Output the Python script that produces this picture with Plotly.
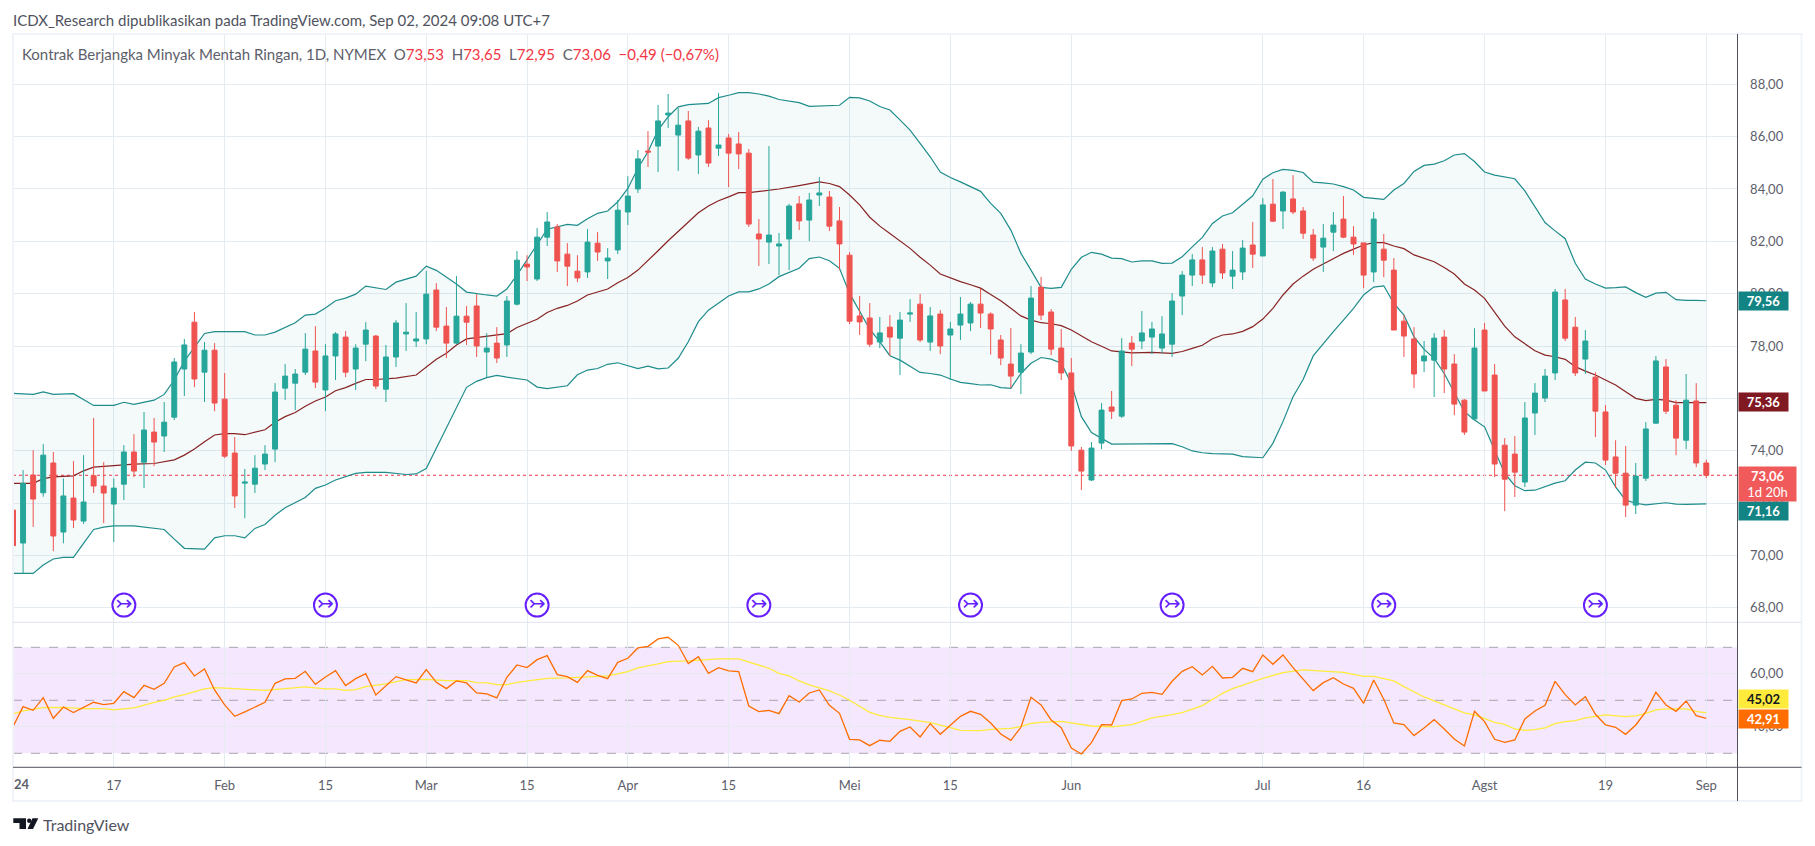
import plotly.graph_objects as go

W = 1815
H = 846

# bar positions are plain trading-day indexes, Jan 3 2024 = 0, Sep 2 2024 = 168
opens = [
    71.73,70.47,73.07,72.39,73.53,70.89,72.19,71.31,73.04,72.65,
    71.96,72.72,73.95,73.56,74.71,74.56,75.28,77.12,78.91,77.00,
    77.84,75.97,73.91,72.76,72.72,73.49,74.06,76.39,76.58,77.00,
    77.81,76.32,77.62,78.34,77.12,78.07,78.38,76.35,77.58,78.46,
    78.19,78.27,80.14,78.76,78.11,79.14,79.53,77.77,78.11,78.04,
    79.60,81.13,80.56,82.16,82.55,81.51,80.86,80.83,81.93,81.25,
    81.67,83.12,84.00,85.45,85.64,86.83,86.06,86.60,85.30,86.33,
    85.56,85.95,85.72,85.37,82.28,81.97,81.82,82.09,83.43,82.81,
    83.77,83.69,82.78,81.47,79.15,79.07,78.15,78.72,78.30,79.22,
    79.60,78.15,79.22,78.42,78.80,78.88,79.60,79.22,78.23,77.31,
    77.00,77.77,80.25,79.30,77.92,76.97,74.02,72.88,74.29,75.67,
    75.32,78.11,78.19,78.34,77.92,78.07,79.91,80.71,81.29,80.41,
    81.70,80.67,80.83,81.86,81.44,83.42,83.16,83.62,83.16,82.24,
    81.78,82.35,82.85,82.16,81.94,80.83,81.70,80.90,78.95,78.27,
    77.43,77.46,78.34,77.31,75.93,75.21,78.61,76.89,74.21,73.87,
    72.80,75.44,76.01,76.97,79.76,78.72,77.50,76.81,75.48,73.76,
    73.14,71.92,72.95,75.05,77.20,75.74,74.40,75.90,73.53,
]
highs = [
    73.64,73.26,74.02,74.25,73.95,72.94,73.60,73.83,75.25,73.56,
    72.94,74.21,74.63,75.48,75.25,75.86,77.54,78.27,79.30,78.15,
    78.11,76.97,74.52,73.30,73.83,74.21,76.58,77.31,77.12,78.49,
    78.76,78.07,78.53,78.57,78.07,78.91,78.42,78.04,78.99,79.64,
    79.30,80.86,80.40,79.49,80.67,79.53,79.98,78.49,78.72,79.91,
    81.63,81.47,82.51,83.12,82.66,81.93,81.47,82.47,82.35,81.74,
    83.58,84.49,85.49,86.21,87.21,87.63,87.09,86.98,86.37,86.63,
    87.67,86.10,86.18,85.53,82.85,85.64,82.32,83.43,83.73,83.85,
    84.46,83.92,83.31,81.59,79.91,79.64,79.11,79.18,79.30,79.79,
    79.99,79.49,79.37,78.92,79.87,79.68,80.18,79.29,78.42,78.69,
    78.07,80.29,80.64,79.41,78.65,77.54,74.14,74.33,75.82,76.28,
    78.30,78.38,79.34,78.92,79.14,80.02,80.86,81.51,81.78,81.78,
    81.90,81.63,82.05,82.74,83.65,84.38,83.92,84.53,83.31,82.47,
    82.66,83.12,83.73,82.58,81.94,83.12,82.28,81.36,79.18,78.72,
    78.19,78.49,78.61,77.69,75.97,78.68,78.88,77.31,74.48,74.56,
    75.86,76.58,77.12,80.18,80.18,79.11,78.61,77.00,75.74,74.40,
    74.18,73.53,75.09,77.62,77.50,75.93,76.93,76.58,73.65,
]
lows = [
    70.07,69.31,71.09,72.24,70.16,70.46,71.04,71.20,72.38,71.23,
    70.51,72.11,72.99,72.57,73.41,73.95,75.17,76.09,76.43,75.86,
    75.51,73.72,71.81,71.42,72.38,73.26,73.56,75.94,75.55,76.89,
    76.39,75.51,76.70,76.81,76.32,77.42,76.35,75.86,77.20,77.81,
    77.96,78.07,78.57,77.54,78.07,78.04,77.58,76.81,77.35,77.58,
    79.55,80.48,80.48,81.82,80.83,80.29,80.44,80.60,81.25,80.56,
    81.51,82.62,83.85,84.84,84.65,86.33,84.69,85.11,84.57,84.84,
    85.26,84.07,84.76,82.55,81.06,81.13,80.71,80.90,82.43,82.01,
    83.35,82.39,80.90,78.84,78.42,77.96,77.92,77.62,76.89,78.92,
    78.15,77.81,77.69,76.70,78.23,78.57,78.69,77.67,77.27,76.39,
    76.16,77.69,78.99,77.65,76.70,73.99,72.50,72.84,74.06,75.21,
    75.25,77.23,77.88,77.69,77.72,77.58,79.18,80.29,80.37,80.25,
    80.56,80.18,80.52,80.98,81.44,82.74,82.47,83.04,82.09,81.25,
    80.83,81.63,82.12,81.48,80.21,80.44,80.63,78.61,77.58,76.39,
    77.00,76.05,76.20,75.36,74.60,75.21,76.28,72.99,71.69,72.23,
    72.61,74.60,75.86,76.70,78.19,76.85,76.93,74.52,73.45,72.57,
    71.46,71.58,72.84,75.05,75.40,73.83,74.06,73.37,72.95,
]
closes = [
    70.37,72.75,72.15,73.83,70.74,72.27,71.35,72.04,72.65,72.38,
    72.57,73.95,73.22,74.79,74.33,75.09,77.39,78.04,76.74,77.84,
    75.82,73.79,72.27,72.80,73.33,73.87,76.24,76.85,76.93,77.88,
    76.62,77.62,78.46,77.00,77.92,78.61,76.47,77.58,78.88,78.53,
    78.27,79.98,78.72,78.11,79.14,78.91,78.00,77.92,77.54,79.72,
    81.28,81.02,82.16,82.74,81.25,81.05,80.60,81.97,81.59,81.36,
    83.19,83.73,85.15,85.41,86.60,86.90,86.44,85.18,86.21,84.99,
    85.68,85.37,85.34,82.66,82.09,82.24,81.90,83.35,82.78,83.58,
    83.85,82.58,81.90,78.95,78.92,78.07,78.50,78.34,78.99,79.26,
    78.23,79.15,78.00,78.65,79.22,79.60,79.26,78.65,77.54,76.85,
    77.73,79.83,79.18,77.88,76.97,74.18,73.22,74.10,75.55,75.51,
    77.81,77.88,78.50,78.65,78.46,79.72,80.71,81.29,80.71,81.63,
    80.79,80.90,81.74,81.51,83.39,82.77,83.88,83.12,82.31,81.36,
    82.12,82.62,82.16,81.90,80.71,82.85,81.28,78.61,78.38,76.93,
    77.62,78.30,77.12,75.78,74.71,77.92,76.28,73.49,72.91,73.18,
    75.25,76.20,76.85,80.06,78.30,76.97,78.19,75.51,73.64,73.14,
    71.92,73.03,74.83,77.43,75.51,74.48,75.93,73.53,73.06,
]
bars = list(range(len(closes)))

upper_x = [0,2,3,4,6,8,10,11,12,14,15,16,17,18,19,20,23,24,25,26,28,29,30,31,32,33,34,35,37,38,40,41,42,44,45,47,48,49,50,53,54,55,56,57,58,59,60,61,62,63,64,65,66,67,69,70,71,72,73,74,75,76,78,79,82,83,84,85,86,87,88,89,90,91,92,93,94,95,96,97,98,99,100,101,102,103,104,105,106,107,108,109,110,111,112,113,114,115,116,117,118,119,120,121,122,123,124,125,126,127,128,129,130,131,132,133,134,135,136,137,138,139,140,141,142,143,144,145,146,147,148,149,150,151,152,153,154,155,156,157,158,159,160,161,162,163,164,165,166,167,168]
upper = [76.19,76.15,76.25,76.15,76.18,75.73,75.73,75.85,75.77,75.93,76.15,76.70,77.42,77.97,78.48,78.55,78.55,78.42,78.42,78.53,78.89,79.18,79.22,79.45,79.73,79.83,79.98,80.29,80.16,80.44,80.67,81.05,80.89,80.37,80.06,79.95,79.91,80.18,80.71,82.46,82.56,82.65,82.61,82.86,83.07,83.16,83.51,84.02,84.79,85.42,86.25,86.76,87.14,87.22,87.27,87.49,87.58,87.68,87.68,87.63,87.55,87.42,87.30,87.16,87.20,87.50,87.48,87.36,87.15,87.02,86.64,86.25,85.74,85.23,84.65,84.44,84.27,84.09,83.91,83.45,83.07,82.43,81.54,80.90,80.24,80.20,80.24,80.93,81.39,81.58,81.51,81.36,81.34,81.21,81.25,81.25,81.16,81.17,81.41,81.79,82.15,82.68,82.97,83.09,83.41,83.74,84.37,84.62,84.75,84.71,84.63,84.26,84.23,84.19,84.09,83.96,83.68,83.64,83.60,83.96,84.21,84.67,84.90,84.95,85.08,85.30,85.35,85.05,84.65,84.53,84.47,84.39,83.93,83.32,82.72,82.40,82.10,81.16,80.56,80.37,80.21,80.23,80.26,80.04,79.86,80.02,80.05,79.77,79.74,79.74,79.73]
lower_x = [0,2,3,4,5,6,7,8,9,10,12,13,14,15,16,17,19,20,21,22,23,24,25,26,27,28,29,30,31,32,33,34,35,37,39,40,41,42,43,44,45,46,47,48,49,51,52,53,54,55,56,57,58,59,60,62,63,64,65,66,67,68,69,70,71,72,73,74,75,76,77,78,79,80,81,82,83,84,85,86,87,88,89,90,91,92,93,94,95,96,97,98,99,100,101,102,103,104,105,106,107,108,109,115,116,117,118,119,121,122,124,125,126,127,128,129,130,131,132,133,134,135,136,137,138,139,140,141,142,143,144,145,146,147,148,149,150,151,152,153,154,155,156,157,158,159,160,161,162,163,164,165,166,168]
lower = [69.31,69.31,69.63,69.86,69.92,69.92,70.46,70.99,71.08,71.13,71.13,71.08,71.05,70.99,70.62,70.27,70.24,70.67,70.75,70.75,70.67,71.03,71.18,71.53,71.82,72.00,72.21,72.56,72.69,72.88,72.99,73.13,73.17,73.17,73.09,73.11,73.32,74.09,74.85,75.62,76.42,76.65,76.79,76.88,76.81,76.70,76.43,76.37,76.43,76.48,76.90,77.08,77.14,77.30,77.36,77.14,77.23,77.13,77.16,77.53,78.16,78.93,79.37,79.63,79.91,80.07,80.07,80.18,80.37,80.65,80.80,80.97,81.34,81.40,81.26,80.97,80.01,79.31,78.64,78.16,77.63,77.46,77.23,76.99,76.95,76.89,76.74,76.61,76.56,76.51,76.52,76.41,76.38,76.95,77.34,77.56,77.50,77.34,76.57,75.30,74.69,74.47,74.25,74.27,74.15,73.99,73.92,73.89,73.87,73.77,73.73,74.28,75.11,76.06,76.72,77.62,78.10,78.55,78.99,79.44,79.95,80.25,80.30,79.63,79.18,78.35,77.87,77.53,76.95,76.19,75.49,75.17,74.91,74.02,73.13,72.66,72.47,72.49,72.62,72.76,72.85,73.26,73.56,73.53,73.26,72.62,72.11,71.99,71.93,71.96,72.01,71.96,71.95,71.97]
basis_x = [0,2,3,4,6,7,8,10,12,14,15,16,17,18,19,20,21,22,23,24,25,26,27,28,29,30,31,32,33,34,35,36,38,40,41,42,43,44,45,47,48,49,50,51,52,53,54,55,56,57,58,59,60,61,62,63,64,65,66,67,68,69,70,71,72,73,74,76,78,79,80,81,82,83,84,85,86,87,88,89,90,91,92,93,94,95,96,97,98,99,100,101,102,103,104,105,106,107,108,109,111,113,115,116,117,118,119,120,121,122,123,124,125,126,127,128,129,130,131,132,133,134,135,136,137,138,139,140,141,142,143,144,145,146,147,148,149,150,151,152,153,154,155,156,157,158,159,160,161,162,163,164,165,168]
basis = [72.75,72.75,72.93,73.00,73.04,73.23,73.37,73.44,73.49,73.51,73.58,73.65,73.83,74.06,74.34,74.60,74.65,74.65,74.61,74.72,74.80,75.09,75.30,75.46,75.70,75.90,76.05,76.29,76.41,76.57,76.72,76.72,76.77,76.89,77.18,77.49,77.72,78.04,78.27,78.38,78.41,78.47,78.71,78.86,79.02,79.28,79.44,79.55,79.72,79.95,80.07,80.18,80.42,80.62,80.90,81.29,81.64,82.02,82.37,82.71,83.09,83.35,83.55,83.70,83.86,83.86,83.90,84.00,84.13,84.21,84.27,84.21,84.09,83.77,83.39,82.92,82.58,82.30,82.02,81.73,81.39,81.09,80.75,80.59,80.46,80.34,80.21,79.97,79.73,79.44,79.15,78.99,78.89,78.85,78.78,78.61,78.38,78.16,77.99,77.81,77.74,77.76,77.72,77.79,77.91,78.03,78.28,78.42,78.46,78.56,78.74,79.03,79.44,79.95,80.37,80.67,80.93,81.13,81.35,81.54,81.70,81.86,81.95,81.95,81.82,81.72,81.48,81.34,81.22,81.00,80.75,80.37,80.14,79.82,79.31,78.76,78.35,78.07,77.82,77.65,77.59,77.49,77.21,77.04,76.89,76.70,76.51,76.25,76.00,75.91,75.96,75.93,75.84,75.84]

rsi = [
    40.06,47.61,46.23,51.01,43.21,47.48,45.35,47.23,49.25,48.36,
    48.87,53.27,51.01,55.66,54.15,56.42,62.58,64.21,59.18,61.82,
    53.90,48.24,43.96,45.60,47.36,49.25,56.42,58.05,58.30,60.94,
    56.04,58.81,61.19,55.53,58.18,60.06,52.01,55.41,58.93,57.67,
    56.54,61.57,56.79,54.40,57.30,56.54,52.77,52.39,50.88,58.68,
    63.33,62.33,65.35,66.86,59.69,58.93,56.79,61.19,59.43,58.18,
    64.34,65.85,69.75,70.38,73.14,73.77,70.75,63.84,66.48,60.19,
    62.33,61.07,60.82,47.86,45.72,46.23,44.97,51.76,49.37,52.77,
    53.90,48.11,45.09,35.28,35.03,32.89,34.91,34.53,38.30,39.94,
    36.16,41.19,37.17,40.57,43.96,45.85,44.72,41.45,37.30,34.91,
    39.81,51.13,48.24,42.58,39.69,32.01,29.75,34.03,40.82,40.69,
    49.87,50.50,52.64,53.02,52.26,57.17,60.94,62.70,59.56,62.83,
    58.43,58.68,62.08,60.82,67.11,63.58,67.11,62.33,57.92,53.65,
    56.67,58.55,56.16,54.53,48.87,57.67,50.38,41.45,40.82,36.67,
    39.56,42.70,39.18,35.41,32.77,45.85,41.95,35.28,34.15,35.03,
    42.96,45.97,48.11,57.17,52.14,48.24,51.38,44.72,40.69,39.81,
    37.17,40.69,45.72,53.02,48.24,45.85,49.75,44.21,43.21,
]
rsi_ma_x = [0,1,3,5,7,9,10,12,14,15,16,17,19,20,22,25,27,29,31,32,33,34,35,37,39,41,43,45,46,47,48,49,50,52,53,55,57,59,61,62,64,65,67,69,70,72,73,75,76,77,78,79,81,82,83,84,85,86,87,89,91,93,94,96,97,99,100,101,102,104,105,107,109,111,112,113,115,116,118,120,121,123,124,126,128,132,134,135,137,138,140,141,143,144,145,147,148,149,150,151,152,153,154,155,156,158,160,161,162,163,164,166,167,168]
rsi_ma = [44.84,45.97,47.23,47.36,46.86,46.86,46.35,47.11,49.25,50.00,51.26,52.14,54.28,54.78,54.40,53.77,54.40,55.03,54.28,54.28,53.77,54.03,55.16,56.16,57.80,57.92,57.42,57.42,56.67,56.54,55.91,55.91,56.79,57.67,58.30,58.43,58.81,59.18,60.82,62.20,63.71,64.59,64.84,65.22,65.60,65.60,64.47,62.08,60.19,59.18,57.30,55.79,53.52,52.01,50.00,47.61,45.47,44.34,43.58,42.70,41.57,39.69,38.68,38.55,39.06,39.43,40.06,41.32,41.70,42.08,41.45,40.31,39.94,40.82,42.08,43.33,44.59,45.35,47.98,52.64,54.40,57.17,58.30,60.44,61.45,60.57,59.06,59.06,57.30,55.16,51.26,49.75,46.86,45.22,44.47,41.70,40.94,39.18,38.68,38.93,39.56,41.19,41.95,42.33,43.33,44.47,43.84,44.09,45.09,46.35,46.73,46.73,45.85,45.22]

tick_bars = [10,21,31,41,51,61,71,83,93,105,124,134,146,158,168]
tick_labels = ["17","Feb","15","Mar","15","Apr","15","Mei","15","Jun","Jul","16","Agst","19","Sep"]
price_ticks = [68,70,72,74,76,78,80,82,84,86,88]
price_labels = ["68,00","70,00","72,00","74,00","76,00","78,00","80,00","82,00","84,00","86,00","88,00"]
rsi_ticks = [40,60]
rsi_labels = ["40,00","60,00"]
rsi_levels = [30,50,70]
signal_bars = [11,31,52,74,95,115,136,157]

# pixel layout of the chart
LEFT = 13
AXIS_X = 1737.5
FRAME_R = 1801.5
TOP = 34
SEP_Y = 622.3
RSI_BOTTOM = 767.3
FRAME_B = 801
BAR_PX = (1706.3 - LEFT) / 168
FONT = "Lato, Noto Sans, sans-serif"
GRID = "#e4ecf2"
TEAL = "#26a69a"
RED = "#ef5350"
TEXT = "#5d606b"

def px(x):
    return x / W

def py(y):
    return 1 - y / H

price_range = [88 - (SEP_Y - 84.3) / 26.17, 88 + (84.3 - TOP) / 26.17]
rsi_range = [30 - (RSI_BOTTOM - 753.3) / 2.65, 70 + (647.3 - SEP_Y) / 2.65]
x_range = [0, (AXIS_X - LEFT) / BAR_PX]

fig = go.Figure()

# bands first, on the base price axis
fig.add_trace(go.Scatter(x=upper_x, y=upper, mode="lines", line=dict(color="#1f8c8c", width=1.2), hoverinfo="skip"))
fig.add_trace(go.Scatter(x=lower_x, y=lower, mode="lines", line=dict(color="#1f8c8c", width=1.2),
                         fill="tonexty", fillcolor="rgba(38,166,154,0.05)", hoverinfo="skip"))
fig.add_trace(go.Scatter(x=basis_x, y=basis, mode="lines", line=dict(color="#872323", width=1.2), hoverinfo="skip"))

# candles on an overlaid axis so they stay above the band lines
fig.add_trace(go.Candlestick(
    x=bars, open=opens, high=highs, low=lows, close=closes,
    yaxis="y3", whiskerwidth=0,
    increasing=dict(line=dict(color=TEAL, width=1), fillcolor=TEAL),
    decreasing=dict(line=dict(color=RED, width=1), fillcolor=RED),
    hoverinfo="skip",
))

# signal icons
sig_y = [68.1] * len(signal_bars)
fig.add_trace(go.Scatter(
    x=signal_bars, y=sig_y, yaxis="y3", mode="markers+text",
    marker=dict(symbol="circle", size=23, color="white", line=dict(color="#651fff", width=2)),
    text=["\u21a3"] * len(signal_bars), textposition="middle center",
    textfont=dict(family="DejaVu Sans", size=20, color="#651fff"),
    hoverinfo="skip",
))

# RSI pane
fig.add_trace(go.Scatter(x=rsi_ma_x, y=rsi_ma, xaxis="x2", yaxis="y2", mode="lines",
                         line=dict(color="#ffeb3b", width=1.3), hoverinfo="skip"))
fig.add_trace(go.Scatter(x=bars, y=rsi, xaxis="x2", yaxis="y2", mode="lines",
                         line=dict(color="#ff6d00", width=1.3), hoverinfo="skip"))

shapes = [
    dict(type="line", xref="x domain", yref="y", x0=0, x1=1, y0=closes[-1], y1=closes[-1],
         line=dict(color="#f23645", width=1, dash="dot"), layer="below"),
    dict(type="rect", xref="x2 domain", yref="y2", x0=0, x1=1, y0=rsi_levels[0], y1=rsi_levels[2],
         fillcolor="rgba(155,39,245,0.11)", line=dict(width=0), layer="below"),
]
for level in rsi_levels:
    shapes.append(dict(type="line", xref="x2 domain", yref="y2", x0=0, x1=1, y0=level, y1=level,
                       line=dict(color="#a9a5ae", width=1, dash="dash"), layer="below"))

# frame and separators
shapes += [
    dict(type="rect", xref="paper", yref="paper", x0=px(LEFT), x1=px(FRAME_R), y0=py(FRAME_B), y1=py(TOP),
         line=dict(color="#f0f3fa", width=2)),
    dict(type="line", xref="paper", yref="paper", x0=px(LEFT), x1=px(AXIS_X), y0=py(SEP_Y), y1=py(SEP_Y),
         line=dict(color="#e0e3eb", width=1)),
    dict(type="line", xref="paper", yref="paper", x0=px(AXIS_X), x1=px(FRAME_R), y0=py(SEP_Y), y1=py(SEP_Y),
         line=dict(color="#e0e3eb", width=1)),
    dict(type="line", xref="paper", yref="paper", x0=px(LEFT), x1=px(FRAME_R), y0=py(RSI_BOTTOM), y1=py(RSI_BOTTOM),
         line=dict(color="#50535e", width=1)),
    dict(type="line", xref="paper", yref="paper", x0=px(AXIS_X), x1=px(AXIS_X), y0=py(FRAME_B), y1=py(TOP),
         line=dict(color="#50535e", width=1)),
]

# TradingView mark at the bottom left
logo = (f"M {px(13.3)} {py(818.3)} L {px(26)} {py(818.3)} L {px(26)} {py(829)} L {px(19.5)} {py(829)} "
        f"L {px(19.5)} {py(823)} L {px(13.3)} {py(823)} Z "
        f"M {px(32.5)} {py(818.3)} L {px(38.3)} {py(818.3)} L {px(33)} {py(829)} L {px(27.5)} {py(829)} Z")
shapes.append(dict(type="path", xref="paper", yref="paper", path=logo, fillcolor="#131722", line=dict(width=0)))
shapes.append(dict(type="circle", xref="paper", yref="paper", x0=px(27), x1=px(31.4), y0=py(823), y1=py(818.4),
                   fillcolor="#131722", line=dict(width=0)))

def note(x, y, text, size=13, color=TEXT, anchor="left", **kw):
    return dict(xref="paper", yref="paper", x=px(x), y=py(y), text=text, showarrow=False,
                xanchor=anchor, yanchor="middle", font=dict(family=FONT, size=size, color=color), **kw)

def price_tag(y, text, bg, color="white"):
    return note(AXIS_X, y, f"<b>{text}</b>", size=13, color=color, bgcolor=bg, width=49, height=18, align="center", borderpad=0)

def fmt(v):
    return f"{v:.2f}".replace(".", ",")

val = "color:#f23645"
legend = (f"Kontrak Berjangka Minyak Mentah Ringan, 1D, NYMEX&nbsp;&nbsp;O<span style='{val}'>{fmt(opens[-1])}</span>"
          f"&nbsp;&nbsp;H<span style='{val}'>{fmt(highs[-1])}</span>&nbsp;&nbsp;L<span style='{val}'>{fmt(lows[-1])}</span>"
          f"&nbsp;&nbsp;C<span style='{val}'>{fmt(closes[-1])}</span>"
          f"&nbsp;&nbsp;<span style='{val}'>\u22120,49 (\u22120,67%)</span>")

annotations = [
    note(11, 20, "ICDX_Research dipublikasikan pada TradingView.com, Sep 02, 2024 09:08 UTC+7", size=15, color="#50535e"),
    note(20, 54, legend, size=15),
    note(12, 784, "<b>24</b>", size=13),
    note(41, 824, "TradingView", size=16, color="#50535e"),
    price_tag(300.7, "79,56", "#138484"),
    price_tag(402.3, "75,36", "#801922"),
    price_tag(510.5, "71,16", "#138484"),
    note(AXIS_X, 483.5, "<b>73,06</b><br>1d 20h", size=13, color="white", bgcolor="#f05a5a", width=57, height=34, align="center", borderpad=0),
    price_tag(699, "45,02", "#ffeb3b", color="#131722"),
    price_tag(719, "42,91", "#ff6d00"),
]

layout_x = dict(range=x_range, domain=[px(LEFT), px(AXIS_X)], tickmode="array", tickvals=tick_bars,
                gridcolor=GRID, gridwidth=1, zeroline=False, showline=False, ticks="")

fig.update_layout(
    width=W, height=H,
    margin=dict(l=0, r=0, t=0, b=0),
    paper_bgcolor="white", plot_bgcolor="white",
    showlegend=False,
    xaxis=dict(layout_x, anchor="y", showticklabels=False, rangeslider=dict(visible=False)),
    xaxis2=dict(layout_x, anchor="y2", matches="x", ticktext=tick_labels, showticklabels=True,
                tickfont=dict(family=FONT, size=13, color=TEXT), ticks="outside", ticklen=6, tickcolor="rgba(0,0,0,0)"),
    yaxis=dict(domain=[py(SEP_Y), py(TOP)], range=price_range, side="right", anchor="x",
               tickmode="array", tickvals=price_ticks, ticktext=price_labels, gridcolor=GRID, zeroline=False,
               tickfont=dict(family=FONT, size=13, color=TEXT), ticks="outside", ticklen=9, tickcolor="rgba(0,0,0,0)"),
    yaxis2=dict(domain=[py(RSI_BOTTOM), py(SEP_Y)], range=rsi_range, side="right", anchor="x2",
                tickmode="array", tickvals=rsi_ticks, ticktext=rsi_labels, gridcolor=GRID, zeroline=False,
                tickfont=dict(family=FONT, size=13, color=TEXT), ticks="outside", ticklen=9, tickcolor="rgba(0,0,0,0)"),
    yaxis3=dict(range=price_range, overlaying="y", side="right", anchor="x", visible=False),
    shapes=shapes,
    annotations=annotations,
)

fig.write_html("out.html", config={"displayModeBar": False}, post_script="document.body.style.margin='0';")
